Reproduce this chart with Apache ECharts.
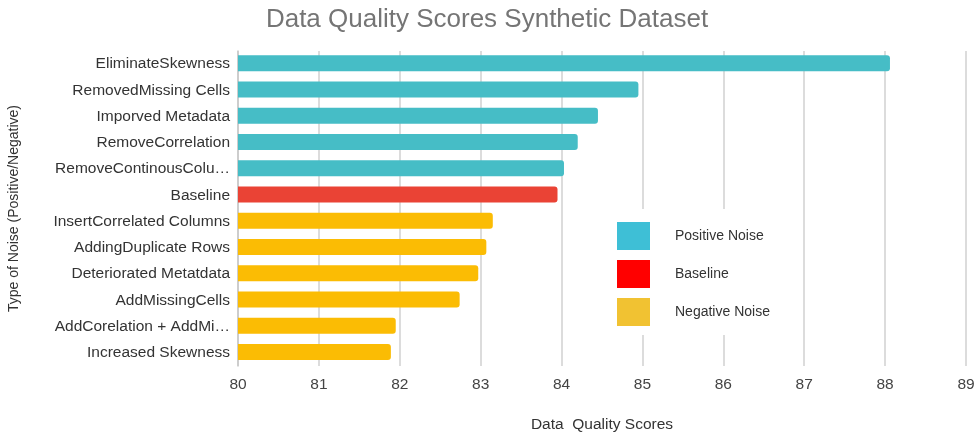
<!DOCTYPE html>
<html>
<head>
<meta charset="utf-8">
<script src="https://cdn.jsdelivr.net/npm/echarts@6/dist/echarts.min.js"></script>
<style>
  html, body { margin: 0; padding: 0; background: #fff; }
  #chart { width: 974px; height: 434px; }
</style>
</head>
<body>
<div id="chart"></div>
<script>
// categories, top to bottom as shown
const categories = [
  "EliminateSkewness",
  "RemovedMissing Cells",
  "Imporved Metadata",
  "RemoveCorrelation",
  "RemoveContinousColumns",
  "Baseline",
  "InsertCorrelated Columns",
  "AddingDuplicate Rows",
  "Deteriorated Metatdata",
  "AddMissingCells",
  "AddCorelation + AddMissingCells",
  "Increased Skewness"
];
const scores = [88.06, 84.95, 84.45, 84.2, 84.03, 83.95, 83.15, 83.07, 82.97, 82.74, 81.95, 81.89];
const groups = ["pos", "pos", "pos", "pos", "pos", "base", "neg", "neg", "neg", "neg", "neg", "neg"];
const xTicks = [80, 81, 82, 83, 84, 85, 86, 87, 88, 89];
const legendNames = ["Positive Noise", "Baseline", "Negative Noise"];

const barColors = { pos: "#46bdc6", base: "#ea4335", neg: "#fbbc04" };
const legendColors = ["#3ebfd6", "#ff0000", "#f1c232"];

const chart = echarts.init(document.getElementById("chart"));

// bars: reversed so the first category sits on top
const barData = categories.map((c, i) => ({
  value: scores[i],
  itemStyle: { color: barColors[groups[i]] }
})).reverse();

// empty series only for the legend swatches
const legendSeries = legendNames.map((n, i) => ({
  name: n,
  type: "bar",
  data: [],
  itemStyle: { color: legendColors[i] }
}));

const option = {
  textStyle: { fontFamily: "Liberation Sans, Arial, sans-serif" },
  title: {
    text: "Data Quality Scores Synthetic Dataset",
    left: "center",
    top: 2,
    textStyle: { fontSize: 26, fontWeight: "normal", color: "#757575" }
  },
  legend: {
    orient: "vertical",
    left: 605,
    top: 209,
    padding: [13, 18, 9, 12],
    backgroundColor: "#fff",
    itemWidth: 33,
    itemHeight: 28,
    itemGap: 10,
    icon: "rect",
    data: legendNames,
    textStyle: { fontSize: 14, color: "#333", padding: [0, 0, 0, 20] }
  },
  grid: { left: 238, right: 8, top: 51, bottom: 68, outerBoundsMode: "none", containLabel: false },
  xAxis: {
    type: "value",
    min: xTicks[0],
    max: xTicks[xTicks.length - 1],
    interval: 1,
    name: "Data  Quality Scores",
    nameLocation: "middle",
    nameGap: 51,
    nameTextStyle: { fontSize: 15.5, color: "#333" },
    axisLine: { show: false },
    axisTick: { show: false },
    axisLabel: { fontSize: 15.5, color: "#444", margin: 11 },
    splitLine: { lineStyle: { color: "#d0d0d0", width: 1.5 } }
  },
  yAxis: {
    type: "category",
    data: categories.slice().reverse(),
    name: "Type of Noise (Positive/Negative)",
    nameLocation: "middle",
    nameGap: 217,
    nameTextStyle: { fontSize: 14, color: "#333" },
    axisLine: { lineStyle: { color: "#c8c8c8", width: 1.5 } },
    axisTick: { show: false },
    axisLabel: {
      fontSize: 15.5,
      color: "#333",
      margin: 8,
      width: 183,
      overflow: "truncate",
      ellipsis: "…"
    }
  },
  series: [
    {
      type: "bar",
      data: barData,
      barWidth: 16,
      z: 3,
      itemStyle: { borderRadius: [0, 3, 3, 0] }
    }
  ].concat(legendSeries)
};

chart.setOption(option);
</script>
</body>
</html>
